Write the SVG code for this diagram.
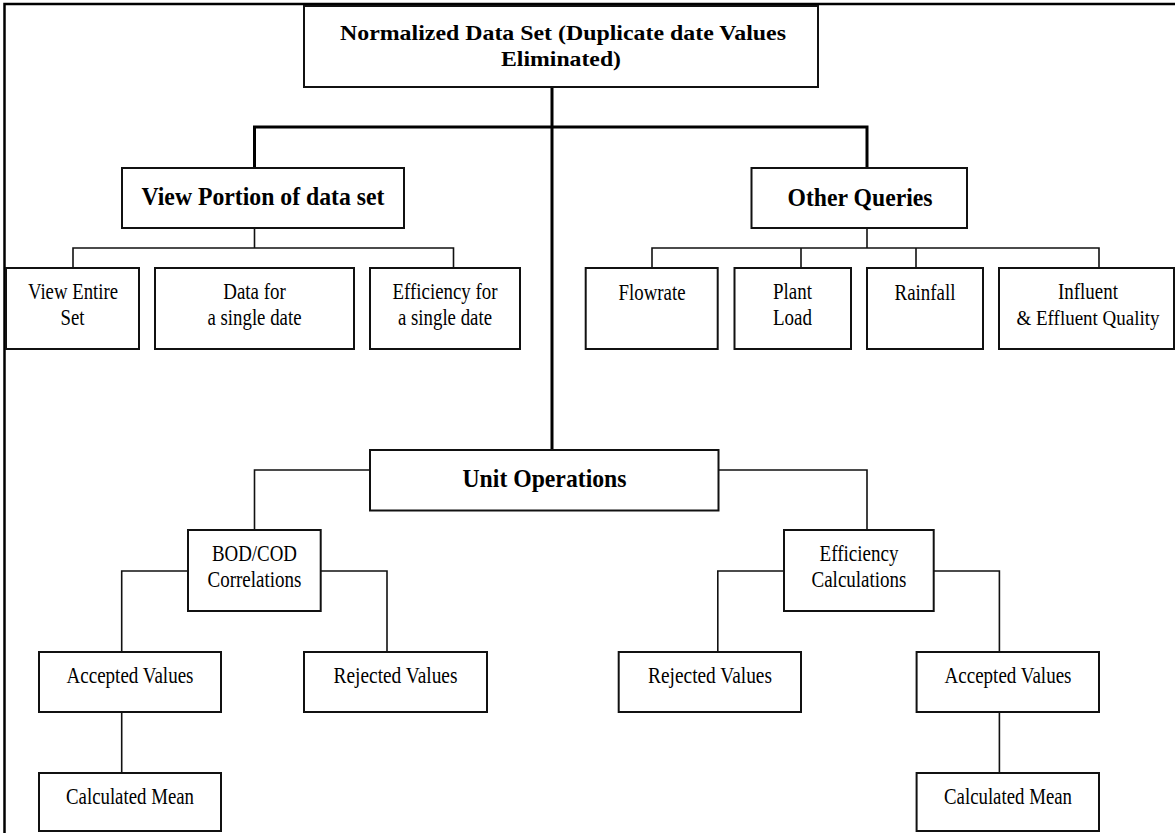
<svg xmlns="http://www.w3.org/2000/svg" width="1175" height="833" viewBox="0 0 1175 833">
<style>
.box{fill:#fff;stroke:#111;stroke-width:2}
.t{font-family:"Liberation Serif","Times New Roman",serif;font-size:22.5px;fill:#000;text-anchor:middle}
.b{font-family:"Liberation Serif","Times New Roman",serif;font-size:26px;font-weight:bold;fill:#000;text-anchor:middle}
.bt{font-size:22px}
.thin{fill:none;stroke:#111;stroke-width:1.6}
.thick{fill:none;stroke:#000;stroke-width:3}
</style>
<rect width="1175" height="833" fill="#fff"/>
<path d="M4.5,840 V4 H1180" fill="none" stroke="#000" stroke-width="2.5"/>
<g id="connectors">
<path class="thick" d="M254.5,168 V127 H867 V168"/>
<path class="thick" d="M552,87 V450"/>
<path class="thin" d="M254.5,228 V248 M73,268 V248 H453.5 V268"/>
<path class="thin" d="M867,228 V248 M652,268 V248 H1099 V268 M801,248 V268 M916,248 V268"/>
<path class="thin" d="M370,470 H254.5 V530 M718.5,470 H867 V530"/>
<path class="thin" d="M188,571 H121.7 V652 M320.7,571 H387 V652 M121.7,712 V773"/>
<path class="thin" d="M784,571 H717.8 V652 M933.7,571 H999.4 V652 M999.4,712 V773"/>
</g>
<g id="n-top"><rect class="box" x="304" y="6" width="514" height="81"/>
<text class="b bt" x="563" y="40" textLength="446" lengthAdjust="spacingAndGlyphs">Normalized Data Set (Duplicate date Values</text>
<text class="b bt" x="561" y="66" textLength="120" lengthAdjust="spacingAndGlyphs">Eliminated)</text></g>
<g id="n-view"><rect class="box" x="122" y="168" width="282" height="60"/>
<text class="b" x="263" y="205" textLength="243" lengthAdjust="spacingAndGlyphs">View Portion of data set</text></g>
<g id="n-other"><rect class="box" x="751.5" y="168" width="215.5" height="60"/>
<text class="b" x="860" y="205.5" textLength="145" lengthAdjust="spacingAndGlyphs">Other Queries</text></g>
<g id="n-entire"><rect class="box" x="6" y="268" width="133" height="81"/>
<text class="t" x="73" y="299" textLength="90" lengthAdjust="spacingAndGlyphs">View Entire</text><text class="t" x="72.5" y="324.5" textLength="24" lengthAdjust="spacingAndGlyphs">Set</text></g>
<g id="n-datafor"><rect class="box" x="155" y="268" width="199" height="81"/>
<text class="t" x="254.5" y="299" textLength="62.5" lengthAdjust="spacingAndGlyphs">Data for</text><text class="t" x="254.5" y="324.5" textLength="94" lengthAdjust="spacingAndGlyphs">a single date</text></g>
<g id="n-efffor"><rect class="box" x="370" y="268" width="150" height="81"/>
<text class="t" x="445" y="299" textLength="105" lengthAdjust="spacingAndGlyphs">Efficiency for</text><text class="t" x="445" y="324.5" textLength="94" lengthAdjust="spacingAndGlyphs">a single date</text></g>
<g id="n-flow"><rect class="box" x="585.7" y="268" width="132" height="81"/>
<text class="t" x="652" y="300" textLength="67" lengthAdjust="spacingAndGlyphs">Flowrate</text></g>
<g id="n-plant"><rect class="box" x="734.5" y="268" width="116.5" height="81"/>
<text class="t" x="792.5" y="299" textLength="39" lengthAdjust="spacingAndGlyphs">Plant</text><text class="t" x="792.5" y="324.5" textLength="39" lengthAdjust="spacingAndGlyphs">Load</text></g>
<g id="n-rain"><rect class="box" x="867" y="268" width="116" height="81"/>
<text class="t" x="925" y="300" textLength="61" lengthAdjust="spacingAndGlyphs">Rainfall</text></g>
<g id="n-influent"><rect class="box" x="999" y="268" width="175" height="81"/>
<text class="t" x="1088" y="299" textLength="60" lengthAdjust="spacingAndGlyphs">Influent</text><text class="t" style="font-size:20px" x="1088" y="324.5" textLength="143" lengthAdjust="spacingAndGlyphs">&amp; Effluent Quality</text></g>
<g id="n-unit"><rect class="box" x="370" y="450" width="348.5" height="60.5"/>
<text class="b" x="544.5" y="487" textLength="164" lengthAdjust="spacingAndGlyphs">Unit Operations</text></g>
<g id="n-bod"><rect class="box" x="188" y="530" width="132.7" height="81"/>
<text class="t" x="254.5" y="561" textLength="85" lengthAdjust="spacingAndGlyphs">BOD/COD</text><text class="t" x="254.5" y="587" textLength="94" lengthAdjust="spacingAndGlyphs">Correlations</text></g>
<g id="n-effcalc"><rect class="box" x="784" y="530" width="149.7" height="81"/>
<text class="t" x="859" y="561" textLength="79" lengthAdjust="spacingAndGlyphs">Efficiency</text><text class="t" x="859" y="587" textLength="95" lengthAdjust="spacingAndGlyphs">Calculations</text></g>
<g id="n-acc1"><rect class="box" x="39" y="652" width="182" height="60"/>
<text class="t" x="130" y="683" textLength="127" lengthAdjust="spacingAndGlyphs">Accepted Values</text></g>
<g id="n-rej1"><rect class="box" x="304" y="652" width="183" height="60"/>
<text class="t" x="395.5" y="683" textLength="124" lengthAdjust="spacingAndGlyphs">Rejected Values</text></g>
<g id="n-rej2"><rect class="box" x="618.7" y="652" width="182.3" height="60"/>
<text class="t" x="710" y="683" textLength="124" lengthAdjust="spacingAndGlyphs">Rejected Values</text></g>
<g id="n-acc2"><rect class="box" x="916.6" y="652" width="182.4" height="60"/>
<text class="t" x="1008" y="683" textLength="127" lengthAdjust="spacingAndGlyphs">Accepted Values</text></g>
<g id="n-mean1"><rect class="box" x="39" y="773" width="182" height="58"/>
<text class="t" x="130" y="804" textLength="128" lengthAdjust="spacingAndGlyphs">Calculated Mean</text></g>
<g id="n-mean2"><rect class="box" x="916.6" y="773" width="182.4" height="58"/>
<text class="t" x="1008" y="804" textLength="128" lengthAdjust="spacingAndGlyphs">Calculated Mean</text></g>
</svg>
